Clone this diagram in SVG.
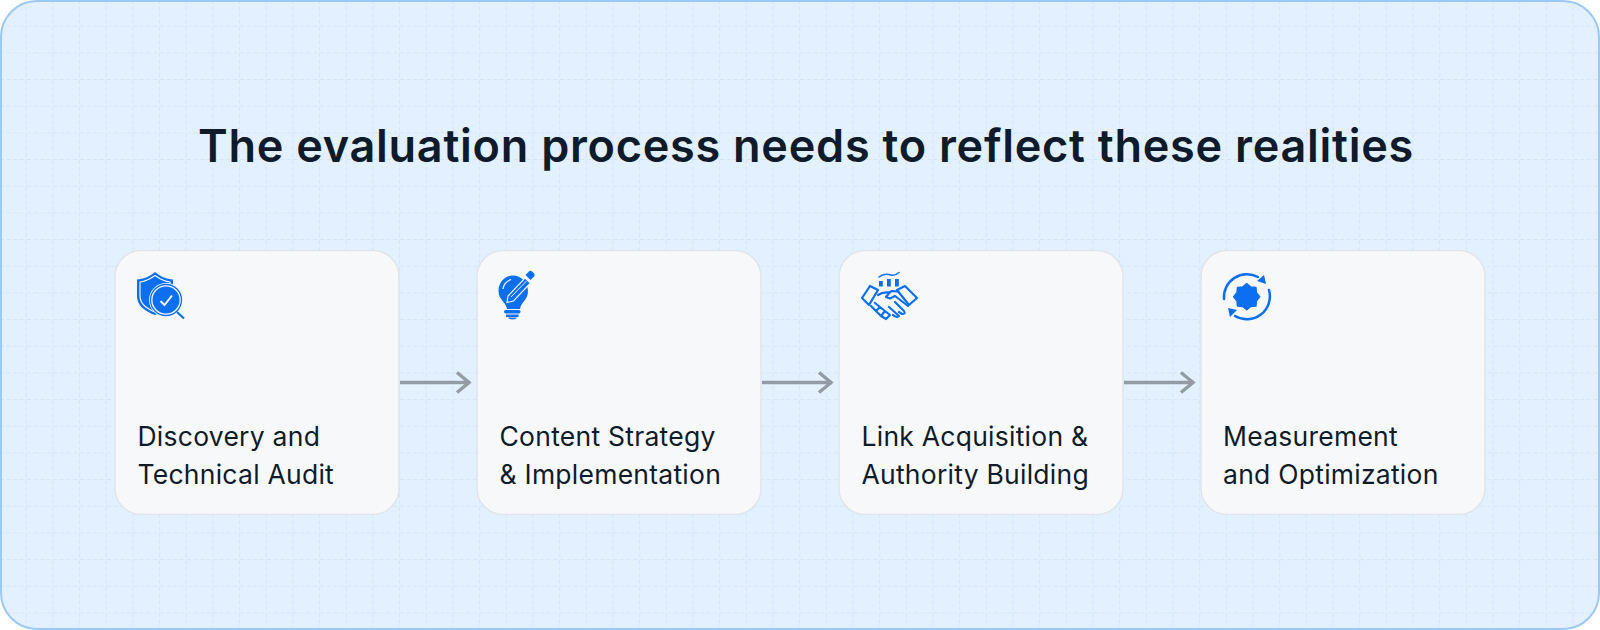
<svg xmlns="http://www.w3.org/2000/svg" width="1600" height="630" viewBox="0 0 1600 630">
<defs>
<pattern id="grid" x="0" y="0" width="26.67" height="26.67" patternUnits="userSpaceOnUse">
<path d="M26.2 0V26.67M0 26.2H26.67" fill="none" stroke="#d4e5f7" stroke-width="1" stroke-dasharray="4 2.67"/>
</pattern>
<marker id="arr" viewBox="0 0 20 24" refX="16" refY="12" markerWidth="20" markerHeight="24" markerUnits="userSpaceOnUse" orient="auto"><path d="M3 2L15 12L3 22" fill="none" stroke="#939ba5" stroke-width="3.400"/></marker>
</defs>
<style>
.card{fill:#f6f8fa;stroke:#dfe5eb;stroke-width:1.5}
.lbl{font-family:Inter,"Liberation Sans",sans-serif;font-size:26.5px;letter-spacing:.25px;fill:#0f1b2a}
.ttl{font-family:Inter,"Liberation Sans",sans-serif;font-size:45px;letter-spacing:.75px;font-weight:600;fill:#0f1b2a}
.ic{fill:#0c6ff0}
.ol{fill:none;stroke:#0c6ff0;stroke-width:2.2;stroke-linecap:round;stroke-linejoin:round}
.cn{stroke:#939ba5;stroke-width:3.6;fill:none}
</style>
<rect x="1" y="1" width="1598" height="628" rx="36" fill="#e3f0ff"/>
<rect x="1" y="1" width="1598" height="628" rx="36" fill="url(#grid)"/>
<rect x="1" y="1" width="1598" height="628" rx="36" fill="none" stroke="#9cc8f7" stroke-width="2"/>
<text id="title" class="ttl" x="806" y="162" text-anchor="middle">The evaluation process needs to reflect these realities</text>
<g id="connectors">
<path class="cn" d="M400 382.500H470" marker-end="url(#arr)"/>
<path class="cn" d="M762 382.500H832" marker-end="url(#arr)"/>
<path class="cn" d="M1124 382.500H1194" marker-end="url(#arr)"/>
</g>
<g id="node1">
<rect class="card" x="115" y="250.500" width="284" height="264" rx="26"/>
<path class="ic" d="M155 272C149 277 143 279 137 279.500V296C137 305 144 311 155 315C166 311 173 305 173 296V279.500C167 279 161 277 155 272Z"/>
<path d="M155 275.500C150 279 145 281.500 140 282V296C140 303 146 308.500 155 312" fill="none" stroke="#f6f8fa" stroke-width="1.200"/>
<path d="M155 275.500C160 279 165 281.500 170 282V290" fill="none" stroke="#f6f8fa" stroke-width="1.200"/>
<circle cx="166" cy="300" r="17" fill="#f6f8fa"/>
<circle cx="166" cy="300" r="15.500" fill="none" stroke="#0c6ff0" stroke-width="1.300"/>
<circle class="ic" cx="166" cy="300" r="13.500"/>
<path d="M160.500 301L164.500 305L172 295.500" fill="none" stroke="#f6f8fa" stroke-width="2"/>
<path d="M177 312L184 318.500" fill="none" stroke="#0c6ff0" stroke-width="2.200"/>
<text class="lbl" x="137.500" y="445.500">Discovery and</text>
<text class="lbl" x="137.500" y="483.500">Technical Audit</text>
</g>
<g id="node2">
<rect class="card" x="477" y="250.500" width="284" height="264" rx="26"/>
<path class="ic" d="M513 275.500C505 275.500 498.500 282.500 498.500 291C498.500 300 506 302 507 309H520C521 302 528 300 528 291C528 282.500 521 275.500 513 275.500Z"/>
<path d="M503 289Q504 282 511 279.500" fill="none" stroke="#f6f8fa" stroke-width="1.200"/>
<path d="M508 296L525 278L530.500 283L513.500 301L507 302.500Z" fill="#0c6ff0" stroke="#f6f8fa" stroke-width="1.100"/>
<path d="M511 297L526.500 281" fill="none" stroke="#f6f8fa" stroke-width=".9"/>
<path class="ic" d="M525.500 275L529 271.500Q530.500 270 532 271.500L534 273.500Q535.500 275 534 276.500L530.500 280Z"/>
<rect class="ic" x="504" y="310" width="16.500" height="3.500" rx="1.700"/>
<rect class="ic" x="506" y="314.500" width="12.500" height="2.500"/>
<path class="ic" d="M508 317.500H517Q516 319.500 512.500 319.500Q509 319.500 508 317.500Z"/>
<text class="lbl" x="499.500" y="445.500">Content Strategy</text>
<text class="lbl" x="499.500" y="483.500">&amp; Implementation</text>
</g>
<g id="node3">
<rect class="card" x="839" y="250.500" width="284" height="264" rx="26"/>
<path class="ol" style="stroke-width:1.600" d="M879 277C884 273 888 274 891 275S896 275 899 272.500"/>
<rect class="ic" x="879" y="281" width="3.800" height="5.500"/>
<rect class="ic" x="887" y="279" width="3.800" height="7.500"/>
<rect class="ic" x="895" y="279" width="3.800" height="7.500"/>
<g class="ol">
<path d="M870 286L878 290L869 305L862 298Z"/>
<path d="M905 286L897 290L909 305L917 298Z"/>
<path d="M878 295C881 293 884 292 889 292.500L892 291L897 291.500"/>
<path d="M890 292L886 297L890 298.500L895 296L908 306"/>
<path d="M895 302L904 311M889 307L899 316M904 311Q906 314 902 314L899 312M899 316Q896 318 893 315"/>
<path d="M871 306L876 311L880 307L875 303M876 311L881 316L885 311L880 307M881 316L886 319L890 315L885 311"/>
</g>
<text class="lbl" x="861.500" y="445.500">Link Acquisition &amp;</text>
<text class="lbl" x="861.500" y="483.500">Authority Building</text>
</g>
<g id="node4">
<rect class="card" x="1201" y="250.500" width="284" height="264" rx="26"/>
<path class="ic" d="M13 0L9.700 4L9.200 9.200L4 9.700L0 13L-4 9.700L-9.200 9.200L-9.700 4L-13 0L-9.700 -4L-9.200 -9.200L-4 -9.700L0 -13L4 -9.700L9.200 -9.200L9.700 -4Z" transform="translate(1246.700 296.700)" stroke="#0c6ff0" stroke-width="1.500" stroke-linejoin="round"/>
<path class="ol" style="stroke-width:2.500" d="M1224 299A23 23 0 0 1 1258 277"/>
<path class="ic" d="M1257 281L1264 275L1266 284Z"/>
<path class="ol" style="stroke-width:2.500" d="M1269 290A23 23 0 0 1 1235 316"/>
<path class="ic" d="M1228 308L1237 310L1230 317Z"/>
<text class="lbl" x="1223" y="445.500">Measurement</text>
<text class="lbl" x="1223" y="483.500">and Optimization</text>
</g>
</svg>
